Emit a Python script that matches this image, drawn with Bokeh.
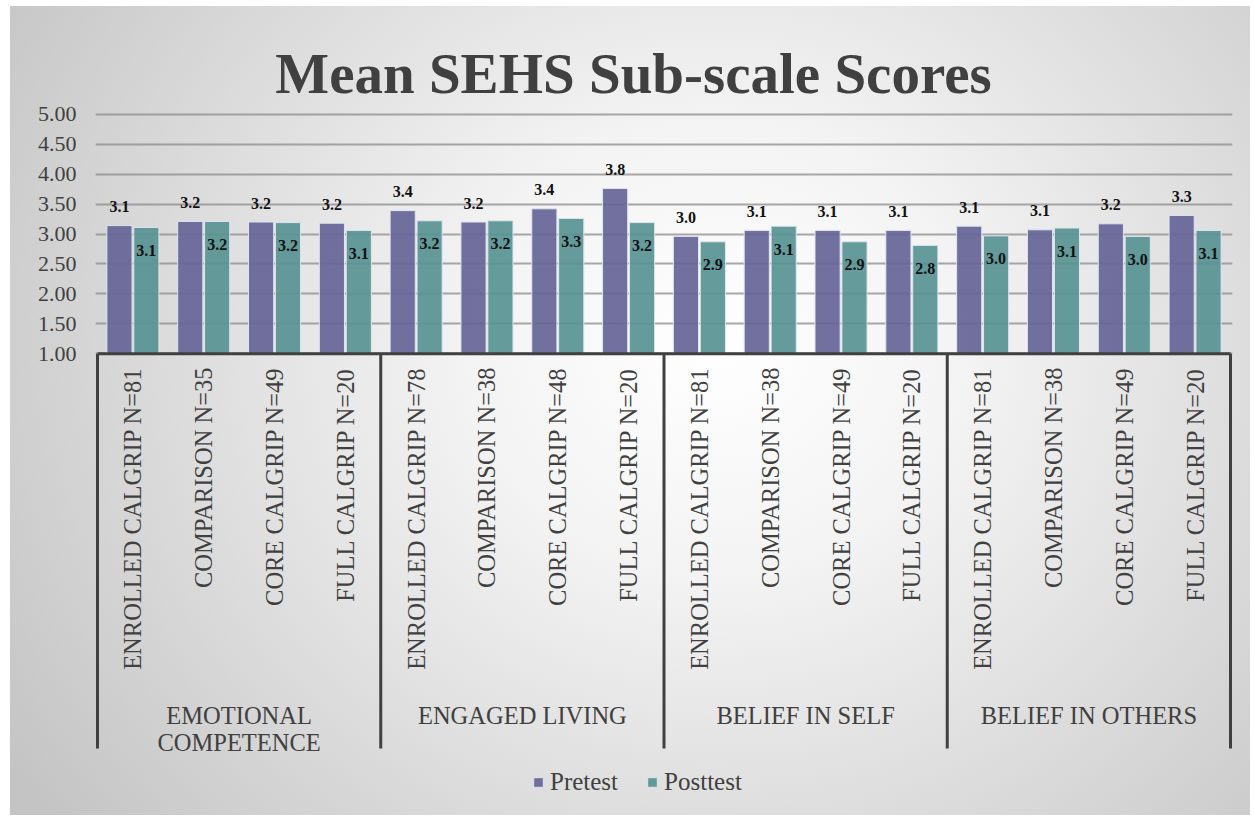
from bokeh.plotting import figure
from bokeh.models import (Range1d, FixedTicker, PrintfTickFormatter, Legend, LegendItem,
                          ColumnDataSource)
from bokeh.core.properties import value
from bokeh.embed import file_html
from bokeh.resources import INLINE

# ---------------- data ----------------
title_text = "Mean SEHS Sub-scale Scores"
groups = ["EMOTIONAL\nCOMPETENCE", "ENGAGED LIVING", "BELIEF IN SELF", "BELIEF IN OTHERS"]
categories = [
    "ENROLLED CALGRIP N=81", "COMPARISON N=35", "CORE CALGRIP N=49", "FULL CALGRIP N=20",
    "ENROLLED CALGRIP N=78", "COMPARISON N=38", "CORE CALGRIP N=48", "FULL CALGRIP N=20",
    "ENROLLED CALGRIP N=81", "COMPARISON N=38", "CORE CALGRIP N=49", "FULL CALGRIP N=20",
    "ENROLLED CALGRIP N=81", "COMPARISON N=38", "CORE CALGRIP N=49", "FULL CALGRIP N=20",
]
pretest = [3.14, 3.21, 3.20, 3.18, 3.39, 3.20, 3.42, 3.76,
           2.96, 3.06, 3.06, 3.06, 3.13, 3.07, 3.17, 3.31]
posttest = [3.11, 3.21, 3.19, 3.06, 3.22, 3.22, 3.26, 3.19,
            2.87, 3.13, 2.87, 2.81, 2.97, 3.10, 2.96, 3.06]
y_ticks = [1.0, 1.5, 2.0, 2.5, 3.0, 3.5, 4.0, 4.5, 5.0]
series_names = ["Pretest", "Posttest"]

# ---------------- layout helpers ----------------
FONT = "Liberation Serif"
TXT = "#404040"
PRE_COLOR = "#656496"
POST_COLOR = "#589292"

W, H = 1250, 815
frame_left, frame_right = 95, 18          # borders in px
frame_w = W - frame_left - frame_right    # 1137
n = len(categories)
px_per_cat = (frame_w - 4) / n
x_pad = 2 / px_per_cat
px_per_unit = 59.9                        # pixels per 1.0 on the value axis
Y_ONE = 353.3                             # page row of value 1.0


def yv(page_y):
    """value-axis coordinate of a page pixel row"""
    return 1 + (Y_ONE - page_y) / px_per_unit


def xv(page_x):
    """category-axis coordinate of a page pixel column"""
    return -0.5 - x_pad + (page_x - frame_left) / px_per_cat


p = figure(width=W, height=H, output_backend="svg", toolbar_location=None,
           x_range=Range1d(-0.5 - x_pad, n - 0.5 + x_pad),
           y_range=Range1d(yv(H), yv(0)),
           min_border_left=frame_left, min_border_right=frame_right,
           min_border_top=0, min_border_bottom=0)
p.styles = {
    "background-image":
        "radial-gradient(ellipse 68% 95% at 57% 42%, #ffffff 0%, #f3f3f3 30%, #c4c4c4 100%)",
    "background-repeat": "no-repeat",
    "background-position": "10px 6px",
    "background-size": "calc(100% - 10px) calc(100% - 6px)",
}
p.background_fill_alpha = 0
p.border_fill_alpha = 0
p.outline_line_color = None
p.xaxis.visible = False
p.xgrid.visible = False

# y axis
yax = p.yaxis[0]
yax.ticker = FixedTicker(ticks=y_ticks)
yax.formatter = PrintfTickFormatter(format="%.2f")
yax.axis_line_color = None
yax.major_tick_line_color = None
yax.minor_tick_line_color = None
yax.major_tick_in = 0
yax.major_tick_out = 0
yax.major_label_standoff = 19
yax.major_label_text_font = FONT
yax.major_label_text_font_size = "22px"
yax.major_label_text_color = TXT

p.ygrid.ticker = FixedTicker(ticks=y_ticks)
p.ygrid.grid_line_color = "#8c8c8c"
p.ygrid.grid_line_alpha = 0.75
p.ygrid.grid_line_width = 2

# bars
xs = list(range(n))
off = 0.19
bw = 0.355
src = ColumnDataSource(dict(
    x_pre=[x - off for x in xs], x_post=[x + off for x in xs],
    pre=pretest, post=posttest,
    pre_lbl=[f"{v:.1f}" for v in pretest], post_lbl=[f"{v:.1f}" for v in posttest],
))
r_pre = p.vbar(x="x_pre", top="pre", bottom=1.0, width=bw, source=src,
               fill_color=PRE_COLOR, fill_alpha=0.92, line_color="#dfe5ef", line_width=1)
r_post = p.vbar(x="x_post", top="post", bottom=1.0, width=bw, source=src,
                fill_color=POST_COLOR, fill_alpha=0.92, line_color="#dfe5ef", line_width=1)

# data labels
p.text(x="x_pre", y="pre", text="pre_lbl", source=src, text_align="center",
       text_baseline="middle", y_offset=-19, text_font=value(FONT),
       text_font_style="bold", text_font_size="16px", text_color="#111111")
p.text(x="x_post", y="post", text="post_lbl", source=src, text_align="center",
       text_baseline="middle", y_offset=23, text_font=value(FONT),
       text_font_style="bold", text_font_size="16px", text_color="#111111")

# category axis drawn as lines + text
n_groups = len(groups)
per = n // n_groups
sep_x = [g * per - 0.5 for g in range(n_groups + 1)]
p.segment(x0=sep_x, y0=[1.0] * len(sep_x), x1=sep_x, y1=[yv(748)] * len(sep_x),
          line_color=TXT, line_width=3)
p.segment(x0=[-0.5], y0=[1.0], x1=[n - 0.5], y1=[1.0], line_color=TXT, line_width=3)

p.text(x=xs, y=[yv(367)] * n, text=categories, angle=1.5707963, text_align="right",
       text_baseline="middle", text_font=value(FONT), text_font_size="24.5px", text_color=TXT)

gx, gy, gt = [], [], []
for gi, g in enumerate(groups):
    for li, line in enumerate(g.split("\n")):
        gx.append(gi * per + (per - 1) / 2)
        gy.append(yv(715 + 27 * li))
        gt.append(line)
p.text(x=gx, y=gy, text=gt, text_align="center", text_baseline="alphabetic",
       text_font=value(FONT), text_font_size="24.5px", text_color=TXT)

# title
p.text(x=[xv(633)], y=[yv(73)], text=[title_text], text_align="center",
       text_baseline="alphabetic", text_font=value(FONT), text_font_style="bold",
       text_font_size="57px", text_color=TXT)

# legend
legend = Legend(items=[LegendItem(label=series_names[0], renderers=[r_pre]),
                       LegendItem(label=series_names[1], renderers=[r_post])],
                orientation="horizontal", location=(532 - frame_left, 19),
                glyph_width=12, glyph_height=12, label_standoff=6, spacing=28,
                padding=0, margin=0, border_line_color=None, background_fill_alpha=0,
                label_text_font=FONT, label_text_font_size="25px", label_text_color=TXT)
p.add_layout(legend)

open("out.html", "w").write(file_html(p, INLINE))
